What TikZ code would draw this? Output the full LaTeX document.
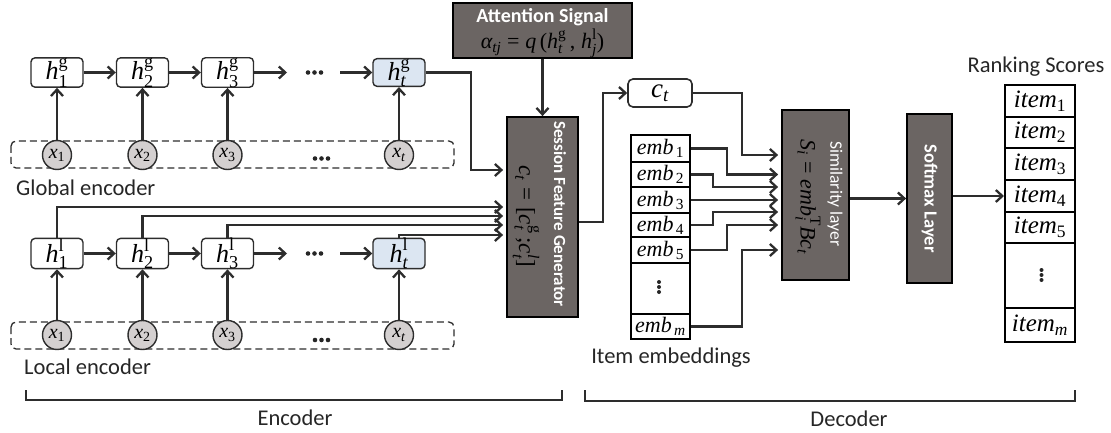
\documentclass[tikz,border=0pt]{standalone}
\usepackage{amsmath}
\usepackage{fontspec}
\setmainfont{Liberation Serif}
\newfontfamily\labfont{Carlito}
\usetikzlibrary{arrows.meta,calc}
\definecolor{dk}{RGB}{107,101,99}
\definecolor{ln}{RGB}{45,45,45}
\definecolor{lb}{RGB}{220,230,242}
\definecolor{cg}{RGB}{212,208,208}
\newcommand{\mi}[1]{\text{\itshape #1}}
\newcommand{\mr}[1]{\text{\upshape #1}}
\newcommand{\fsz}[1]{\fontsize{#1}{#1}\selectfont}
\begin{document}
\begin{tikzpicture}[x=1pt,y=-1pt,
  arr/.style={draw=ln, line width=2.3pt, -{Straight Barb[length=6.5pt,width=12pt]}},
  hbox/.style={draw=ln, line width=1.4pt, rounded corners=4pt, fill=white, minimum width=52pt, minimum height=27pt, inner sep=0pt, font=\fsz{26}},
  hlast/.style={hbox, fill=lb},
  xc/.style={circle, draw=ln, line width=1.4pt, fill=cg, minimum size=29pt, inner sep=0pt, font=\fsz{20}},
  dbox/.style={draw=ln, line width=1.3pt, dash pattern=on 7pt off 4pt, rounded corners=5pt},
  dkbox/.style={draw=black, line width=1.8pt, fill=dk, inner sep=0pt},
  lbl/.style={font=\labfont\fsz{22.5}, text=black!85, inner sep=0pt},
  wtitle/.style={text=white, inner sep=0pt},
  cell/.style={draw=black, line width=2pt, inner sep=0pt, fill=white},
  brace/.style={draw=ln, line width=2pt},
  dotm/.style={fill=black!85}
]
\useasboundingbox (0,0) rectangle (1111,433);

% ---------- Global encoder ----------
\draw[dbox] (11,141) rectangle (454,168);
\node[hbox]  (g1) at (57,72.5)   {$\mi{h}^{\mr{g}}_{\mr{1}}$};
\node[hbox]  (g2) at (142.5,72.5){$\mi{h}^{\mr{g}}_{\mr{2}}$};
\node[hbox]  (g3) at (227.5,72.5){$\mi{h}^{\mr{g}}_{\mr{3}}$};
\node[hlast] (gt) at (399,72.5)  {$\mi{h}^{\mr{g}}_{\mi{t}}$};
\node[xc] (gx1) at (57,155)    {$\mi{x}_{\mr{1}}$};
\node[xc] (gx2) at (142.5,155) {$\mi{x}_{\mr{2}}$};
\node[xc] (gx3) at (227.5,155) {$\mi{x}_{\mr{3}}$};
\node[xc] (gxt) at (399,155)   {$\mi{x}_{\mi{t}}$};
\coordinate (ga) at (287,72.5);
\coordinate (gb) at (340,72.5);
\foreach \xx in {308,314.5,321} \fill[dotm] (\xx,72.5) circle (2.3pt);
\foreach \xx in {315,321.5,328} \fill[dotm] (\xx,158.5) circle (2.3pt);
\draw[arr] (gx1) -- (g1);
\draw[arr] (gx2) -- (g2);
\draw[arr] (gx3) -- (g3);
\draw[arr] (gxt) -- (gt);
\draw[arr] (g1) -- (g2);
\draw[arr] (g2) -- (g3);
\draw[arr] (g3.east) -- (ga);
\draw[arr] (gb) -- (gt.west);
\node[lbl, anchor=west] (glab) at (16,188) {Global encoder};

% ---------- Local encoder ----------
\draw[dbox] (11,322) rectangle (454,349);
\node[hbox]  (l1) at (57,253.5)   {$\mi{h}^{\mr{l}}_{\mr{1}}$};
\node[hbox]  (l2) at (142.5,253.5){$\mi{h}^{\mr{l}}_{\mr{2}}$};
\node[hbox]  (l3) at (227.5,253.5){$\mi{h}^{\mr{l}}_{\mr{3}}$};
\node[hlast] (lt) at (399,253.5)  {$\mi{h}^{\mr{l}}_{\mi{t}}$};
\node[xc] (lx1) at (57,335)    {$\mi{x}_{\mr{1}}$};
\node[xc] (lx2) at (142.5,335) {$\mi{x}_{\mr{2}}$};
\node[xc] (lx3) at (227.5,335) {$\mi{x}_{\mr{3}}$};
\node[xc] (lxt) at (399,335)   {$\mi{x}_{\mi{t}}$};
\coordinate (la) at (287,253.5);
\coordinate (lb) at (340,253.5);
\foreach \xx in {308,314.5,321} \fill[dotm] (\xx,253.5) circle (2.3pt);
\foreach \xx in {315,321.5,328} \fill[dotm] (\xx,340) circle (2.3pt);
\draw[arr] (lx1) -- (l1);
\draw[arr] (lx2) -- (l2);
\draw[arr] (lx3) -- (l3);
\draw[arr] (lxt) -- (lt);
\draw[arr] (l1) -- (l2);
\draw[arr] (l2) -- (l3);
\draw[arr] (l3.east) -- (la);
\draw[arr] (lb) -- (lt.west);
\node[lbl, anchor=west] (llab) at (24,367) {Local encoder};

% ---------- Attention & Session Feature Generator ----------
\node[dkbox, minimum width=179pt, minimum height=55pt] (att) at (542.5,30.5) {};
\node[wtitle, font=\labfont\bfseries\fsz{20}] (attt) at (542.5,17.5) {Attention Signal};
\node[inner sep=0pt, font=\fsz{22}] (attf) at (542.5,43)
  {$\mi{α}_{\mi{tj}} \mathrel{\mr{=}} \mi{q}\,\mr{(}\mi{h}^{\mr{g}}_{\mi{t}}\,\mr{,}\; \mi{h}^{\mr{l}}_{\mi{j}}\mr{)}$};

\node[dkbox, minimum width=71pt, minimum height=200pt] (sfg) at (542.5,217) {};
\node[wtitle, rotate=-90, font=\labfont\bfseries\fsz{17}] (sfgt) at (560,214) {Session Feature Generator};
\node[inner sep=0pt, rotate=-90, font=\fsz{23}] (sfgf) at (526,216)
  {$\mi{c}_{\mi{t}} \mathrel{\mr{=}} \mr{[}\mi{c}^{\mr{g}}_{\mi{t}}\mr{\,;}\mi{c}^{\mi{l}}_{\mi{t}}\mr{]}$};

\draw[arr] (att.south) -- (sfg.north);

\coordinate (gy) at (0,170);
\coordinate (ly1) at (0,207);
\coordinate (ly2) at (0,216);
\coordinate (ly3) at (0,225);
\coordinate (ly4) at (0,235);
\draw[arr, shorten >=3pt] (gt.east) -- (471,72.5) |- (sfg.west |- gy);
\draw[arr, shorten >=3pt] (l1.north) |- (sfg.west |- ly1);
\draw[arr, shorten >=3pt] (l2.north) |- (sfg.west |- ly2);
\draw[arr, shorten >=3pt] (l3.north) |- (sfg.west |- ly3);
\draw[arr, shorten >=3pt] (lt.north) |- (sfg.west |- ly4);

% ---------- c_t ----------
\node[draw=ln, line width=1.6pt, rounded corners=5pt, fill=white, minimum width=64pt, minimum height=28pt, inner sep=0pt, font=\fsz{27}] (ct) at (660,93) {$\mi{c}_{\mi{t}}$};
\coordinate (sy) at (0,222);
\draw[arr] (sfg.east |- sy) -| (603,93) -- (ct.west);

% ---------- Item embeddings ----------
\node[cell, minimum width=59pt, minimum height=27pt, font=\fsz{22}] (e1) at (660.5,148.5) {$\mi{emb}_{\,\mr{1}}$};
\node[cell, minimum width=59pt, minimum height=25pt, font=\fsz{22}] (e2) at (660.5,174.5) {$\mi{emb}_{\,\mr{2}}$};
\node[cell, minimum width=59pt, minimum height=26pt, font=\fsz{22}] (e3) at (660.5,200) {$\mi{emb}_{\,\mr{3}}$};
\node[cell, minimum width=59pt, minimum height=24pt, font=\fsz{22}] (e4) at (660.5,225) {$\mi{emb}_{\,\mr{4}}$};
\node[cell, minimum width=59pt, minimum height=26pt, font=\fsz{22}] (e5) at (660.5,250) {$\mi{emb}_{\,\mr{5}}$};
\node[cell, minimum width=59pt, minimum height=51pt] (ed) at (660.5,288.5) {};
\node[cell, minimum width=59pt, minimum height=25pt, font=\fsz{22}] (em) at (660.5,326.5) {$\mi{emb}_{\,\mi{m}}$};
\foreach \yy in {282,287,292} \fill[dotm] (659,\yy) circle (2pt);
\node[lbl] (elab) at (671,358) {Item embeddings};

% ---------- Similarity layer ----------
\node[dkbox, minimum width=67pt, minimum height=170pt] (sim) at (815.5,195) {};
\node[wtitle, rotate=-90, font=\labfont\fsz{17.5}] (simt) at (835,194) {Similarity layer};
\node[inner sep=0pt, rotate=-90, font=\fsz{22}] (simf) at (808,197)
  {$\mi{S}_{\mi{i}} \mathrel{\mr{=}} \mi{emb}^{\mr{T}}_{\mi{i}}\mi{Bc}_{\mi{t}}$};

\coordinate (s0) at (0,155);
\coordinate (s1) at (0,174.5);
\coordinate (s2) at (0,187);
\coordinate (s4) at (0,212);
\coordinate (s5) at (0,225);
\coordinate (s6) at (0,250);
\draw[arr, shorten >=3pt] (ct.east) -| (742,155) -- (sim.west |- s0);
\draw[arr, shorten >=3pt] (e1.east) -| (727,174.5) -- (sim.west |- s1);
\draw[arr, shorten >=3pt] (e2.east) -| (713,187) -- (sim.west |- s2);
\draw[arr, shorten >=3pt] (e3.east) -- (sim.west |- e3.east);
\draw[arr, shorten >=3pt] (e4.east) -| (713,212) -- (sim.west |- s4);
\draw[arr, shorten >=3pt] (e5.east) -| (727,225) -- (sim.west |- s5);
\draw[arr, shorten >=3pt] (em.east) -| (742,250) -- (sim.west |- s6);

% ---------- Softmax ----------
\node[dkbox, minimum width=45pt, minimum height=169pt] (soft) at (929.5,198.5) {};
\node[wtitle, rotate=-90, font=\labfont\bfseries\fsz{18.5}] (softt) at (929.5,198.5) {Softmax Layer};
\draw[arr] (sim.east |- soft.west) -- (soft.west);

% ---------- Ranking scores ----------
\node[cell, minimum width=70pt, minimum height=32pt, font=\fsz{25}] (it1) at (1040,101) {$\mi{item}_{\mr{1}}$};
\node[cell, minimum width=70pt, minimum height=31pt, font=\fsz{25}] (it2) at (1040,132.5) {$\mi{item}_{\mr{2}}$};
\node[cell, minimum width=70pt, minimum height=32pt, font=\fsz{25}] (it3) at (1040,164) {$\mi{item}_{\mr{3}}$};
\node[cell, minimum width=70pt, minimum height=32pt, font=\fsz{25}] (it4) at (1040,196) {$\mi{item}_{\mr{4}}$};
\node[cell, minimum width=70pt, minimum height=31pt, font=\fsz{25}] (it5) at (1040,227.5) {$\mi{item}_{\mr{5}}$};
\node[cell, minimum width=70pt, minimum height=65pt] (itd) at (1040,275.5) {};
\node[cell, minimum width=70pt, minimum height=34pt, font=\fsz{25}] (itm) at (1040,325) {$\mi{item}_{\mi{m}}$};
\foreach \yy in {270,275,280} \fill[dotm] (1041.5,\yy) circle (2pt);
\node[lbl] (rlab) at (1036,67) {Ranking Scores};
\draw[arr] (soft.east |- it4.west) -- (it4.west);

% ---------- Braces ----------
\draw[brace] (26,390) -- (26,400) -- (562,400) -- (562,390);
\draw[brace] (585,390) -- (585,401) -- (1075,401) -- (1075,390);
\node[lbl] (enc) at (295,418) {Encoder};
\node[lbl] (dec) at (849,419) {Decoder};
\end{tikzpicture}
\end{document}
